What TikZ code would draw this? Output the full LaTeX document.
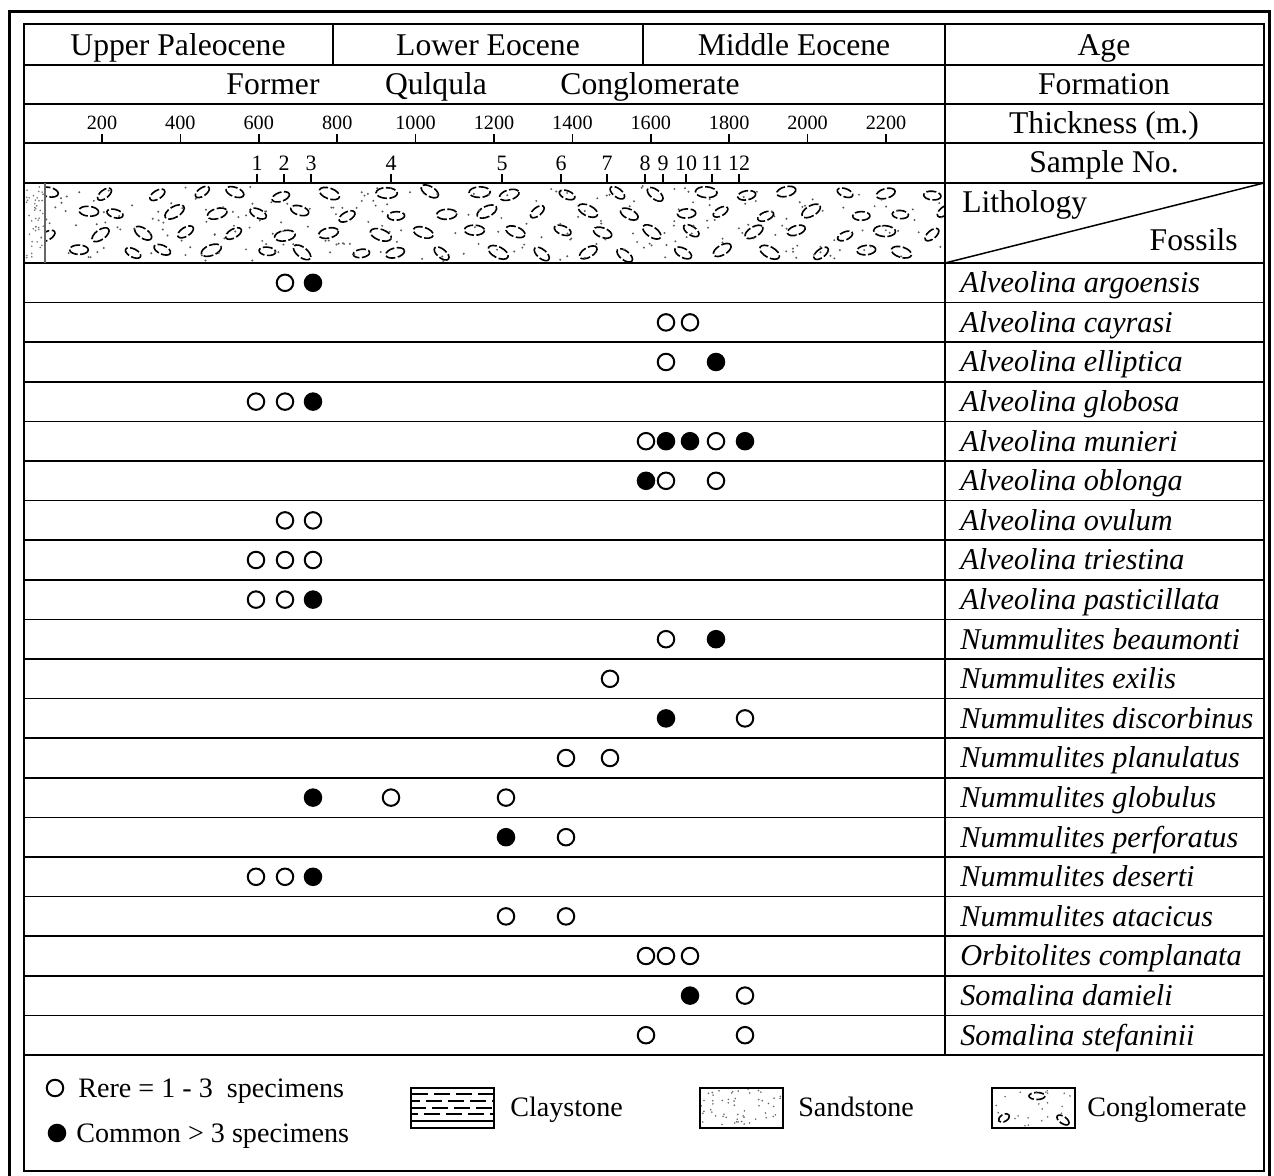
\documentclass[tikz,border=0pt]{standalone}
\usepackage{fontspec}
\setmainfont{Liberation Serif}
\usetikzlibrary{positioning}

\begin{document}
\begin{tikzpicture}[x=0.2mm,y=-0.2mm,
	rule/.style={line width=0.3mm},
	head node/.style={anchor=base, inner sep=0, font=\fontsize{18}{20}\selectfont},
	species node/.style={anchor=base west, inner sep=0, font=\fontsize{17.2}{19}\selectfont\itshape},
	tick node/.style={anchor=base, inner sep=0, font=\fontsize{11.5}{13}\selectfont},
	key node/.style={anchor=base west, inner sep=0, font=\fontsize{16}{18}\selectfont},
	rare node/.style={circle, draw, line width=0.4mm, minimum size=3.3mm, inner sep=0},
	common node/.style={rare node, fill},
	pebble/.style={line width=0.32mm, dash pattern=on 2mm off 0.5mm},
	key box/.style={draw, line width=0.5mm, minimum width=16.6mm, minimum height=8mm, inner sep=0}]

\useasboundingbox (0,0) rectangle (1274,1176);

\draw[line width=0.6mm] (9,11) rectangle (1269,1180);
\draw[rule] (24,24) rectangle (1264,1171);
\foreach \y in {65,104,143,183,263}
	\draw[rule] (24,\y) -- (1264,\y);
\foreach \r in {1,...,20}
	\draw[rule] (24,{263+39.6*\r}) -- (1264,{263+39.6*\r});
\draw[rule] (945,24) -- (945,1055);
\draw[rule] (333,24) -- (333,65);
\draw[rule] (643,24) -- (643,65);

\node[head node] (upal) at (178,55) {Upper Paleocene};
\node[head node] (leoc) at (488,55) {Lower Eocene};
\node[head node] (meoc) at (794,55) {Middle Eocene};
\node[head node] (age) at (1104,55) {Age};
\node[head node] (fm1) at (273,94) {Former};
\node[head node] (fm2) at (436,94) {Qulqula};
\node[head node] (fm3) at (650,94) {Conglomerate};
\node[head node] (formation) at (1104,94) {Formation};
\node[head node] (thickness) at (1104,133) {Thickness (m.)};
\node[head node] (sampleno) at (1104,172) {Sample No.};
\node[head node, anchor=base west] (lithology) at (962,212) {Lithology};
\node[head node, anchor=base east] (fossils) at (1238,250) {Fossils};
\draw[rule] (945,263) -- (1264,183);

% thickness scale and samples
\foreach \t in {200,400,...,2200}{
	\node[tick node] (t\t) at ({23.6+0.392*\t},129) {\t};
	\draw[rule] ({23.6+0.392*\t},134) -- ({23.6+0.392*\t},143);
}
\foreach \s/\x in {1/257,2/284,3/311,4/391,5/502,6/561,7/607,8/645,9/663,10/686,11/712,12/739}{
	\node[tick node, font=\fontsize{12.5}{14}\selectfont] (n\s) at (\x,170) {\s};
	\draw[rule] (\x,174) -- (\x,183);
}

% lithology: conglomerate
\begin{scope}
	\clip (45,183) rectangle (945,263);
	\pgfmathsetseed{2718}
	\foreach \i in {0,...,19}
		\foreach \j in {0,...,3}{
			\pgfmathsetmacro\px{56+46*\i+23*mod(\j,2)+10*rand}
			\pgfmathsetmacro\py{194+19.5*\j+3*rand}
			\pgfmathsetmacro\pa{40*rand}
			\pgfmathsetmacro\pr{8+3*rnd}
			\draw[pebble, rotate around={\pa:(\px,\py)}] (\px,\py) ellipse [x radius=\pr, y radius=0.5*\pr];
		}
	\foreach \k in {1,...,230}{
		\pgfmathsetmacro\px{45+900*rnd}
		\pgfmathsetmacro\py{185+76*rnd}
		\fill[black!65] (\px,\py) circle [radius=1.1];
	}
\end{scope}
\begin{scope}
	\clip (24,183) rectangle (45,263);
	\foreach \k in {1,...,45}{
		\pgfmathsetmacro\px{25+19*rnd}
		\pgfmathsetmacro\py{185+76*rnd}
		\fill[black!55] (\px,\py) circle [radius=0.9];
	}
\end{scope}
\draw[black!60, line width=0.25mm] (45,183) -- (45,263);

% fossils
\foreach \name [count=\r] in {Alveolina argoensis, Alveolina cayrasi, Alveolina elliptica,
	Alveolina globosa, Alveolina munieri, Alveolina oblonga, Alveolina ovulum,
	Alveolina triestina, Alveolina pasticillata, Nummulites beaumonti, Nummulites exilis,
	Nummulites discorbinus, Nummulites planulatus, Nummulites globulus, Nummulites perforatus,
	Nummulites deserti, Nummulites atacicus, Orbitolites complanata, Somalina damieli,
	Somalina stefaninii}
	\node[species node] (sp\r) at (960,{253+39.6*\r}) {\name};

\foreach \s/\x in {1/256,2/285,3/313,4/391,5/506,6/566,7/610,8/646,9/666,10/690,11/716,12/745}
	\coordinate (c\s) at (\x,0);

\foreach \r/\s/\k in {1/2/rare,1/3/common, 2/9/rare,2/10/rare, 3/9/rare,3/11/common,
	4/1/rare,4/2/rare,4/3/common, 5/8/rare,5/9/common,5/10/common,5/11/rare,5/12/common,
	6/8/common,6/9/rare,6/11/rare, 7/2/rare,7/3/rare, 8/1/rare,8/2/rare,8/3/rare,
	9/1/rare,9/2/rare,9/3/common, 10/9/rare,10/11/common, 11/7/rare,
	12/9/common,12/12/rare, 13/6/rare,13/7/rare, 14/3/common,14/4/rare,14/5/rare,
	15/5/common,15/6/rare, 16/1/rare,16/2/rare,16/3/common, 17/5/rare,17/6/rare,
	18/8/rare,18/9/rare,18/10/rare, 19/10/common,19/12/rare, 20/8/rare,20/12/rare}
	\path (c\s) ++(0,{243.2+39.6*\r}) node[\k\space node] (d\r-\s) {};

% key
\node[rare node] (krare) at (55,1088) {};
\node[key node] (trare) at (78,1097) {Rere = 1 - 3~ specimens};
\node[common node] (kcommon) at (57,1133) {};
\node[key node] (tcommon) at (76,1142) {Common > 3 specimens};

\node[key box] (clay) at (452.5,1108) {};
\foreach \y/\ph in {1094/0,1101/1.6,1108/0.4,1114/2}
	\draw[line width=0.3mm, dash pattern=on 3.2mm off 1.2mm, dash phase=\ph mm] (412,\y) -- (493,\y);
\draw[line width=0.3mm] (412,1121) -- (493,1121);
\node[key node] (tclay) at (510,1116) {Claystone};

\node[key box] (sand) at (741.5,1108) {};
\begin{scope}
	\clip (701,1089) rectangle (782,1127);
	\pgfmathsetseed{31}
	\foreach \k in {1,...,55}{
		\pgfmathsetmacro\px{701+81*rnd}
		\pgfmathsetmacro\py{1089+38*rnd}
		\fill[black!60] (\px,\py) circle [radius=0.9];
	}
\end{scope}
\node[key node] (tsand) at (798,1116) {Sandstone};

\node[key box] (cong) at (1033.5,1108) {};
\begin{scope}
	\clip (993,1089) rectangle (1074,1127);
	\draw[pebble] (1037,1096) ellipse [x radius=8, y radius=3.5];
	\draw[pebble, rotate around={30:(1004,1118)}] (1004,1118) ellipse [x radius=6, y radius=3.5];
	\draw[pebble, rotate around={-35:(1063,1120)}] (1063,1120) ellipse [x radius=7, y radius=3.5];
	\pgfmathsetseed{77}
	\foreach \k in {1,...,22}{
		\pgfmathsetmacro\px{993+81*rnd}
		\pgfmathsetmacro\py{1089+38*rnd}
		\fill[black!60] (\px,\py) circle [radius=0.9];
	}
\end{scope}
\node[key node] (tcong) at (1087,1116) {Conglomerate};
\end{tikzpicture}
\end{document}
